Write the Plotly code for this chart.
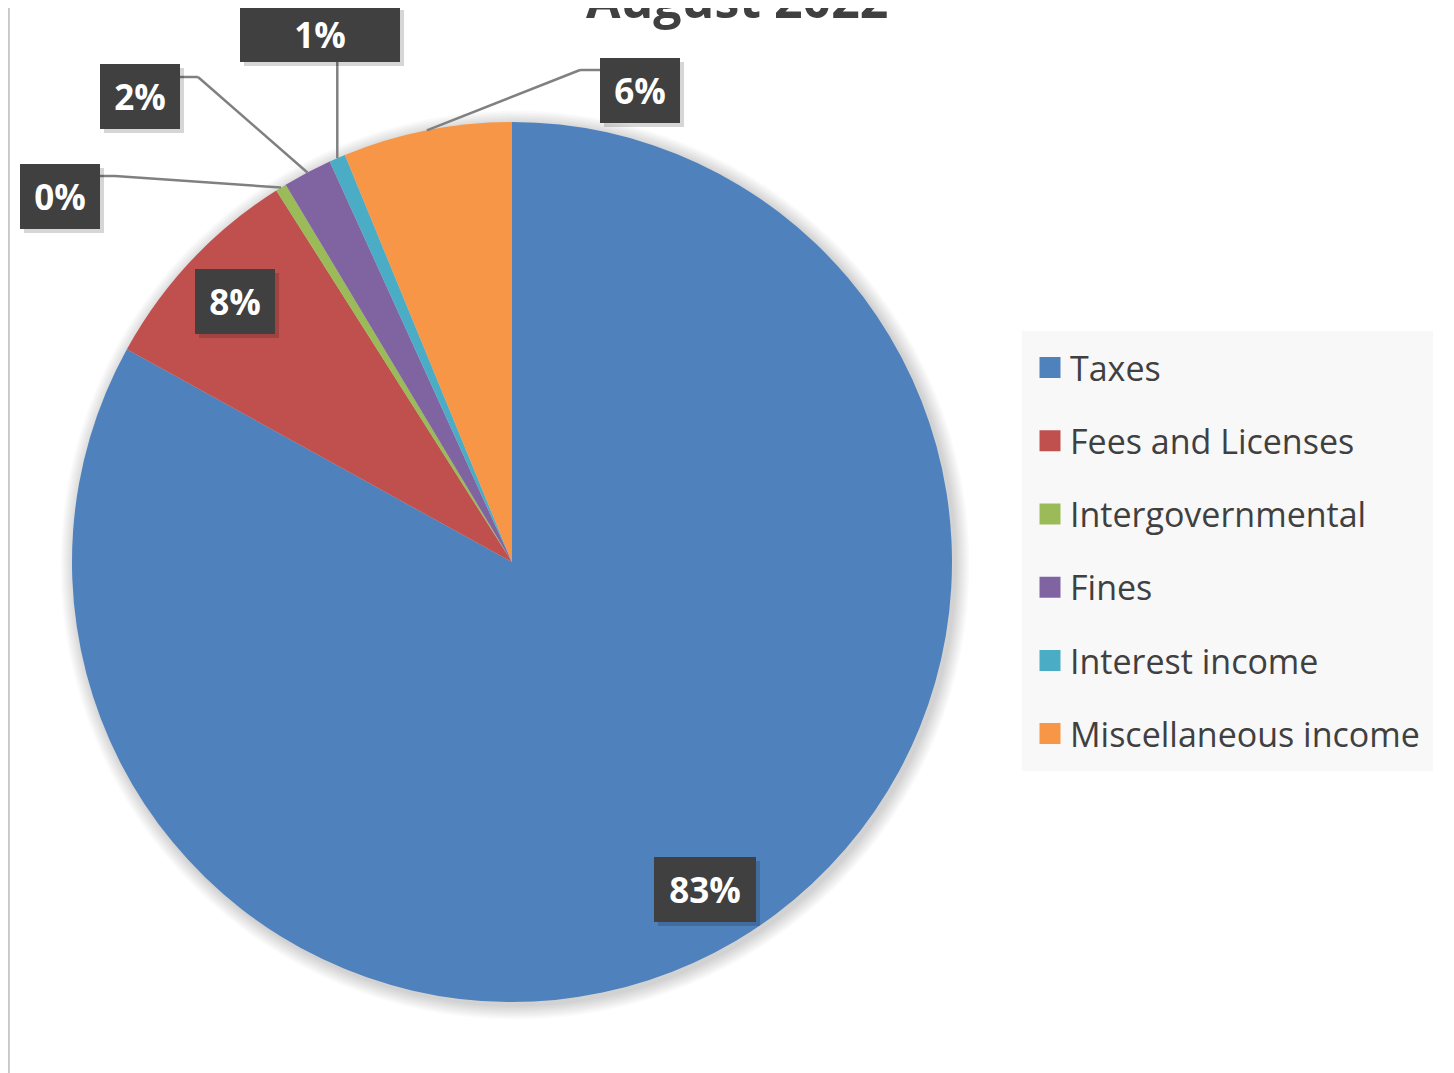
import math
import plotly.graph_objects as go

# ---------------- data ----------------
categories = ["Taxes", "Fees and Licenses", "Intergovernmental", "Fines",
              "Interest income", "Miscellaneous income"]
shares = [83.05, 7.97, 0.40, 1.80, 0.60, 6.20]
colors = ["#4F81BD", "#C0504D", "#9BBB59", "#8064A2", "#4BACC6", "#F79646"]
title_text = "August 2022"

# ---------------- layout constants (page pixels) ----------------
W, H = 1454, 1073          # browser window
P = 8                      # default page (body) margin around the figure
FW, FH = W - P, H - P      # figure size
CX, CY, R = 512, 562, 440  # pie centre / radius on page


def fx(x):
    return (x - P) / FW


def fy(y):
    return 1 - (y - P) / FH


total = sum(shares)
pct_labels = [f"{round(v / total * 100)}%" for v in shares]

# mid angles (clockwise from 12 o'clock)
mid_angles = []
cum = 0.0
for v in shares:
    mid_angles.append((cum + v / 2) / total * 2 * math.pi)
    cum += v


def edge_point(theta, frac=1.0):
    return CX + frac * R * math.sin(theta), CY - frac * R * math.cos(theta)


# label placement: inside (fraction of radius) or outside (box centre + leader)
label_style = {
    0: dict(kind="in", frac=0.865, w=102, h=65),
    1: dict(kind="in", frac=0.865, w=80, h=65),
    2: dict(kind="out", box=(60, 197), w=80, h=65, leader=[(100, 176), (115, 176)]),
    3: dict(kind="out", box=(140, 97), w=80, h=65, leader=[(180, 77), (198, 77)]),
    4: dict(kind="out", box=(320, 34), w=160, h=56, leader="vertical"),
    5: dict(kind="out", box=(640, 91), w=80, h=65, leader=[(600, 70), (580, 70)]),
}

fig = go.Figure()
fig.add_trace(go.Pie(
    labels=categories, values=shares, sort=False, direction="clockwise",
    rotation=0, textinfo="none", hoverinfo="label+percent", showlegend=False,
    marker=dict(colors=colors, line=dict(width=0)),
    domain=dict(x=[fx(CX - R), fx(CX + R)], y=[fy(CY + R), fy(CY - R)]),
))

# legend entries
for c, col in zip(categories, colors):
    fig.add_trace(go.Scatter(
        x=[None], y=[None], mode="markers", name=c, legendgroup=c,
        marker=dict(symbol="square", size=16, color=col, line=dict(color=col, width=5)),
        hoverinfo="skip", showlegend=True,
    ))

shapes = []
# soft pie shadow
for k in range(1, 10):
    rr = R + 1.6 * k
    shapes.append(dict(type="circle", xref="paper", yref="paper", layer="below",
                       x0=fx(CX + 3 - rr), x1=fx(CX + 3 + rr),
                       y0=fy(CY + 3 + rr), y1=fy(CY + 3 - rr),
                       line=dict(width=0), fillcolor="rgba(0,0,0,0.02)"))
# left chart border
shapes.append(dict(type="line", xref="paper", yref="paper", x0=0.0006, x1=0.0006,
                   y0=0, y1=1, line=dict(color="#c8c8c8", width=2)))

annotations = []
for i, lab in enumerate(pct_labels):
    st = label_style[i]
    if st["kind"] == "in":
        bx, by = edge_point(mid_angles[i], st["frac"])
    else:
        bx, by = st["box"]
        ex, ey = edge_point(mid_angles[i])
        if st["leader"] == "vertical":
            pts = [(ex, by + st["h"] / 2), (ex, ey)]
        else:
            pts = st["leader"] + [(ex, ey)]
        for (x0, y0), (x1, y1) in zip(pts[:-1], pts[1:]):
            shapes.append(dict(type="line", xref="paper", yref="paper",
                               x0=fx(x0), y0=fy(y0), x1=fx(x1), y1=fy(y1),
                               line=dict(color="#808080", width=2.5)))
    # box shadow
    annotations.append(dict(x=fx(bx), y=fy(by), xref="paper", yref="paper",
                            xanchor="center", yanchor="middle",
                            text=" ", showarrow=False, width=st["w"], height=st["h"],
                            xshift=4, yshift=-4, bgcolor="rgba(0,0,0,0.16)",
                            borderpad=0, borderwidth=0))
    annotations.append(dict(x=fx(bx), y=fy(by), xref="paper", yref="paper",
                            xanchor="center", yanchor="middle",
                            text=f"<b>{lab}</b>", showarrow=False,
                            width=st["w"], height=st["h"], bgcolor="#404040",
                            borderpad=0, borderwidth=0, align="center", valign="middle",
                            font=dict(family="Open Sans", size=35, color="white")))

annotations.append(dict(x=fx(737), y=1, xref="paper", yref="paper",
                        xanchor="center", yanchor="bottom", yshift=-27,
                        text=f"<b>{title_text}</b>", showarrow=False,
                        font=dict(family="Open Sans", size=50, color="#404040")))

fig.update_layout(
    width=FW, height=FH,
    margin=dict(l=0, r=0, t=0, b=0),
    paper_bgcolor="white", plot_bgcolor="white",
    xaxis=dict(visible=False), yaxis=dict(visible=False),
    shapes=shapes, annotations=annotations,
    legend=dict(x=fx(1022), y=fy(331), xanchor="left", yanchor="top",
                bgcolor="#f8f8f8", bordercolor="#f8f8f8", borderwidth=8,
                font=dict(family="Open Sans", size=34, color="#404040"),
                tracegroupgap=26, traceorder="grouped", itemclick=False,
                itemdoubleclick=False),
)

fig.write_html("out.html")
